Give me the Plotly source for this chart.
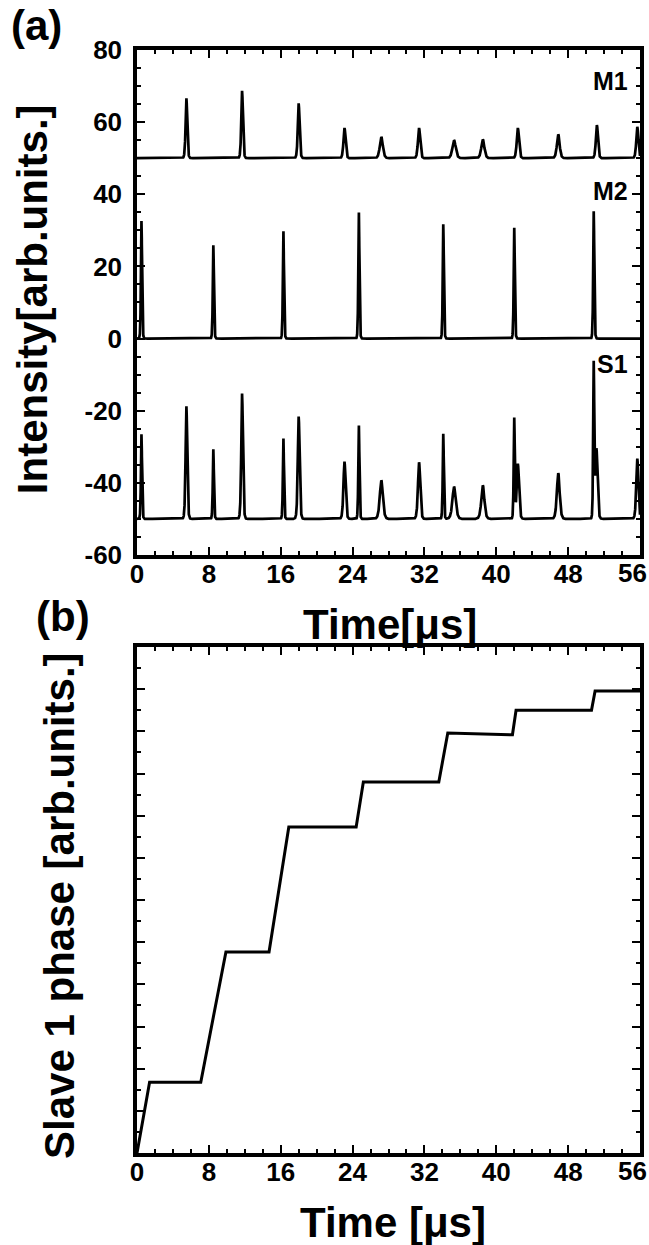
import numpy as np
import plotly.graph_objects as go

# ---------------- data ----------------
# Panel (a): pulse trains (peak time [us], peak intensity above own baseline, pulse width [us])
m1_times = [5.5, 11.7, 18.0, 23.1, 27.2, 31.4, 35.3, 38.5, 42.4, 46.9, 51.2, 55.7]
m1_heights = [16.6, 18.7, 15.2, 8.4, 5.9, 8.4, 5.0, 5.2, 8.4, 6.6, 9.2, 8.7]
m1_widths = [0.12, 0.12, 0.13, 0.15, 0.22, 0.16, 0.24, 0.22, 0.16, 0.2, 0.15, 0.15]

m2_times = [0.5, 8.5, 16.3, 24.7, 34.1, 42.0, 50.85]
m2_heights = [32.6, 25.9, 29.8, 35.0, 31.7, 30.7, 35.3]
m2_widths = [0.08, 0.08, 0.08, 0.08, 0.08, 0.08, 0.08]

s1_times = [0.5, 5.5, 8.5, 11.7, 16.3, 18.0, 23.1, 24.7, 27.2, 31.4, 34.1, 35.3,
            38.5, 42.0, 42.4, 46.9, 50.85, 51.15, 55.7]
s1_heights = [23.5, 31.2, 19.3, 34.8, 22.3, 28.4, 15.9, 25.9, 10.7, 15.7, 23.6, 8.9,
              9.3, 27.7, 15.3, 12.7, 42.5, 19.5, 16.7]
s1_widths = [0.08, 0.12, 0.08, 0.12, 0.08, 0.13, 0.15, 0.08, 0.22, 0.16, 0.08, 0.24,
             0.22, 0.08, 0.16, 0.2, 0.08, 0.15, 0.15]

trace_offsets = {"M1": 50, "M2": 0, "S1": -50}

# Panel (b): slave 1 phase (time [us], phase [arb. units])
phase_t = [0, 1.4, 7.1, 9.9, 14.7, 16.9, 24.4, 25.2, 33.6, 34.6, 41.8, 42.2, 50.6, 51.0, 56.0]
phase_v = [0, 1.68, 1.68, 4.77, 4.77, 7.73, 7.73, 8.8, 8.8, 9.96, 9.92, 10.5, 10.5, 10.96, 10.96]

x_ticks = [0, 8, 16, 24, 32, 40, 48, 56]
# the last label (56) sits on the right frame edge; it is drawn as a right-aligned text below
x_ticktext = ["0", "8", "16", "24", "32", "40", "48", ""]
last_x_label = "56"
y_ticks_a = [-60, -40, -20, 0, 20, 40, 60, 80]
y_ticktext_a = ["-60", "-40", "-20", "0", "20", "40", "60", "80"]

# ---------------- rendering ----------------
t = np.linspace(0, 56, 8001)


def pulse_train(times, heights, widths, base):
    y = np.full_like(t, float(base))
    for t0, h, w in zip(times, heights, widths):
        y += h / np.cosh((t - t0) / w) ** 2
    return y


series = {
    "M1": pulse_train(m1_times, m1_heights, m1_widths, trace_offsets["M1"]),
    "M2": pulse_train(m2_times, m2_heights, m2_widths, trace_offsets["M2"]),
    "S1": pulse_train(s1_times, s1_heights, s1_widths, trace_offsets["S1"]),
}

BLACK = "#000000"
FONT = "Liberation Sans, Arial, Helvetica, sans-serif"

fig = go.Figure()
for name, y in series.items():
    fig.add_trace(go.Scatter(x=t, y=y, mode="lines", name=name,
                             line=dict(color=BLACK, width=2.7),
                             xaxis="x", yaxis="y", showlegend=False))

fig.add_trace(go.Scatter(x=phase_t, y=phase_v, mode="lines", name="phase",
                         line=dict(color=BLACK, width=3),
                         xaxis="x2", yaxis="y2", showlegend=False))

tickfont = dict(family=FONT, size=26, color=BLACK, weight="bold")
common_x = dict(range=[0, 56], tickvals=x_ticks, ticktext=x_ticktext,
                ticks="inside", ticklen=8, tickwidth=2,
                tickcolor=BLACK, showline=True, linewidth=3.5, linecolor=BLACK,
                mirror="ticks", showgrid=False, zeroline=False, tickfont=tickfont,
                minor=dict(dtick=2, ticks="inside", ticklen=4, tickwidth=2, tickcolor=BLACK),
                ticklabelstandoff=-7, automargin=False)

fig.update_layout(
    width=649, height=1245,
    margin=dict(l=137, r=9, t=50, b=92, autoexpand=False),
    paper_bgcolor="white", plot_bgcolor="white",
    xaxis=dict(domain=[0, 1], anchor="y", **common_x),
    yaxis=dict(domain=[0.5422, 1], anchor="x", range=[-60, 80], tickvals=y_ticks_a,
               ticktext=y_ticktext_a, automargin=False,
               ticks="inside", ticklen=8, tickwidth=2, tickcolor=BLACK,
               showline=True, linewidth=3.5, linecolor=BLACK, mirror="ticks",
               showgrid=False, zeroline=False, tickfont=tickfont,
               minor=dict(dtick=5, ticks="inside", ticklen=4, tickwidth=2, tickcolor=BLACK),
               ticklabelstandoff=6),
    xaxis2=dict(domain=[0, 1], anchor="y2", **common_x),
    yaxis2=dict(domain=[0, 0.4587], anchor="x2", range=[0, 12], dtick=1, automargin=False,
                ticks="inside", ticklen=8, tickwidth=2, tickcolor=BLACK,
                showline=True, linewidth=3.5, linecolor=BLACK, mirror="ticks",
                showgrid=False, zeroline=False, showticklabels=False,
                minor=dict(dtick=0.5, ticks="inside", ticklen=4, tickwidth=2, tickcolor=BLACK)),
)

title_font = dict(family=FONT, size=42, color=BLACK, weight="bold")
label_font = dict(family=FONT, size=25, color=BLACK, weight="bold")

annotations = [
    dict(text="(a)", x=-0.199, y=1.022, font=title_font, xanchor="center", yanchor="middle"),
    dict(text="Intensity[arb.units.]", x=-0.209, y=0.774, textangle=-90,
         font=title_font, xanchor="center", yanchor="middle"),
    dict(text="Time[μs]", x=0.503, y=0.4796, font=title_font, xanchor="center", yanchor="middle"),
    dict(text="(b)", x=-0.147, y=0.486, font=title_font, xanchor="center", yanchor="middle"),
    dict(text="Slave 1 phase [arb.units.]", x=-0.153, y=0.224, textangle=-90,
         font=title_font, xanchor="center", yanchor="middle"),
    dict(text="Time [μs]", x=0.509, y=-0.0626, font=title_font, xanchor="center", yanchor="middle"),
    # last x tick labels of both panels, right-aligned at the page edge
    dict(text=last_x_label, x=1.0159, y=0.5258, font=tickfont, xanchor="right",
         yanchor="middle", borderpad=0),
    dict(text=last_x_label, x=1.0159, y=-0.0163, font=tickfont, xanchor="right",
         yanchor="middle", borderpad=0),
]
for a in annotations:
    a.update(xref="paper", yref="paper", showarrow=False)

trace_labels = [("M1", 71.5), ("M2", 41.0), ("S1", -7.0)]
for lbl, yv in trace_labels:
    annotations.append(dict(text=lbl, x=54.9, y=yv, xref="x", yref="y", showarrow=False,
                            xanchor="right", yanchor="middle", font=label_font))

fig.update_layout(annotations=annotations)
# remove the browser's default 8px body margin so the 649x1245 figure fills the window exactly
fig.write_html("out.html",
               config={"displayModeBar": False},
               post_script="document.body.style.margin='0px';"
                           "document.body.style.overflow='hidden';")
